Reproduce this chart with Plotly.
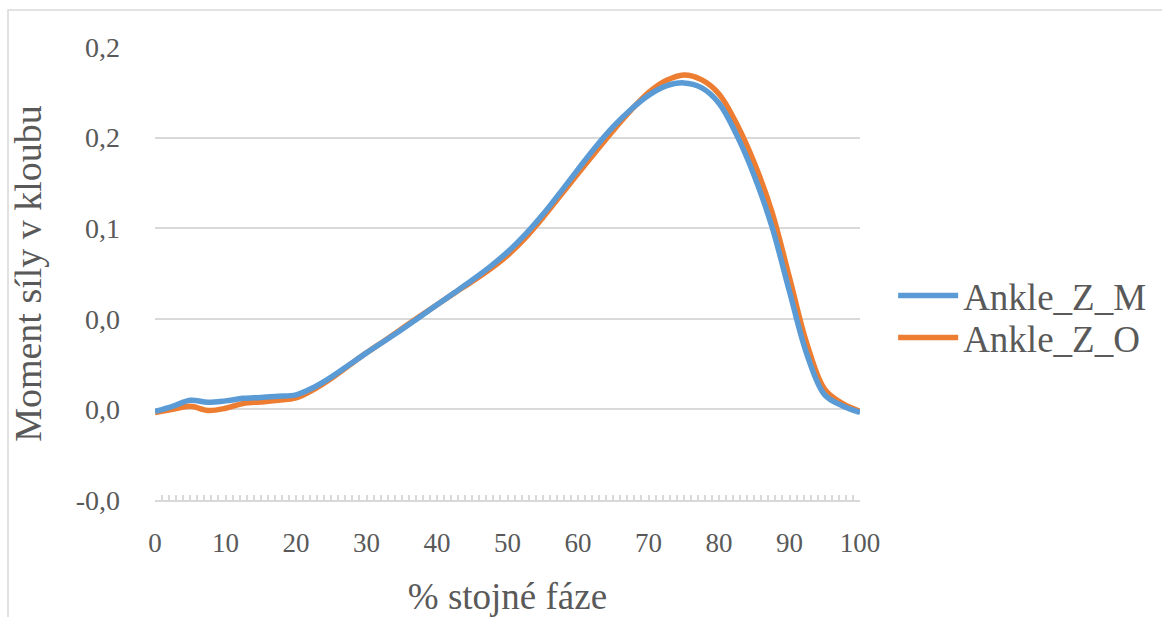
import plotly.graph_objects as go

# % of stance phase
x_pct = [0, 2.5, 5, 7.5, 10, 12.5, 15, 17.5, 20, 22.5, 25, 27.5, 30, 32.5, 35, 37.5, 40,
         42.5, 45, 47.5, 50, 52.5, 55, 57.5, 60, 62.5, 65, 67.5, 70, 72.5, 75, 77.5, 80,
         82.5, 85, 87.5, 90, 92.5, 95, 97.5, 100]

ankle_z_m = [-0.0011, 0.0017, 0.0050, 0.0039, 0.0047, 0.0061, 0.0066, 0.0072, 0.0080,
             0.0121, 0.0178, 0.0245, 0.0312, 0.0376, 0.0441, 0.0509, 0.0577, 0.0645,
             0.0714, 0.0787, 0.0868, 0.0964, 0.1075, 0.1198, 0.1325, 0.1448, 0.1560,
             0.1655, 0.1733, 0.1785, 0.1802, 0.1776, 0.1690, 0.1515, 0.1290, 0.1010,
             0.0650, 0.0300, 0.0080, 0.0020, -0.0017]

ankle_z_o = [-0.0017, 0.0000, 0.0017, -0.0006, 0.0006, 0.0033, 0.0041, 0.0050, 0.0063,
             0.0110, 0.0171, 0.0242, 0.0312, 0.0378, 0.0445, 0.0512, 0.0578, 0.0643,
             0.0706, 0.0773, 0.0850, 0.0945, 0.1058, 0.1180, 0.1302, 0.1422, 0.1540,
             0.1650, 0.1748, 0.1815, 0.1846, 0.1820, 0.1741, 0.1576, 0.1361, 0.1091,
             0.0727, 0.0358, 0.0110, 0.0033, -0.0011]

y_tickvals = [-0.05, 0.0, 0.05, 0.10, 0.15, 0.20]
y_ticktext = ["-0,0", "0,0", "0,0", "0,1", "0,2", "0,2"]
x_tickvals = [0, 10, 20, 30, 40, 50, 60, 70, 80, 90, 100]

FONT = "Times New Roman, Liberation Serif, serif"
TXT = "#595959"
GRID = "#d9d9d9"

fig = go.Figure()
fig.add_trace(go.Scatter(x=x_pct, y=ankle_z_o, name="Ankle_Z_O", mode="lines", legend="legend2",
                         line=dict(color="#ed7d31", width=5.5, shape="spline", smoothing=1.0)))
fig.add_trace(go.Scatter(x=x_pct, y=ankle_z_m, name="Ankle_Z_M", mode="lines", legend="legend",
                         line=dict(color="#5b9bd5", width=5.5, shape="spline", smoothing=1.0)))

leg_common = dict(xanchor="left", yanchor="middle", itemwidth=60,
                  font=dict(size=37, family=FONT, color=TXT), bgcolor="rgba(0,0,0,0)")
fig.update_layout(
    width=1162, height=617,
    margin=dict(l=155, r=302, t=47, b=117, autoexpand=False),
    paper_bgcolor="white", plot_bgcolor="white",
    font=dict(family=FONT, color=TXT),
    legend=dict(x=1.047, y=0.4503, **leg_common),
    legend2=dict(x=1.047, y=0.3576, **leg_common),
    showlegend=True,
)
fig.update_xaxes(
    range=[0, 100], tickvals=x_tickvals, ticktext=[str(v) for v in x_tickvals],
    showgrid=False, zeroline=False, automargin=False,
    showline=True, linecolor=GRID, linewidth=1.5,
    ticks="inside", ticklen=5, tickcolor=GRID, tickwidth=1.5,
    minor=dict(dtick=1, ticks="inside", ticklen=5, tickcolor=GRID, tickwidth=1.5, showgrid=False),
    tickfont=dict(size=27, family=FONT, color=TXT),
    ticklabelstandoff=18,
    title=dict(text="% stojné fáze", font=dict(size=37, family=FONT, color=TXT), standoff=35),
)
fig.update_yaxes(
    range=[-0.05, 0.2], tickvals=y_tickvals, ticktext=y_ticktext,
    showgrid=True, gridcolor=GRID, gridwidth=1.5, automargin=False,
    zeroline=False, showline=False, ticks="",
    tickfont=dict(size=28, family=FONT, color=TXT),
    ticklabelstandoff=34,
    title=dict(text="Moment síly v kloubu", font=dict(size=38, family=FONT, color=TXT), standoff=22),
)
# chart border (Excel chart area outline)
fig.add_shape(type="rect", xref="paper", yref="paper",
              x0=(8 - 155) / 705, x1=2.0, y0=-1.0, y1=(500 - 10) / 453,
              line=dict(color=GRID, width=1.5), fillcolor="rgba(0,0,0,0)", layer="below")

fig.write_html("out.html")
